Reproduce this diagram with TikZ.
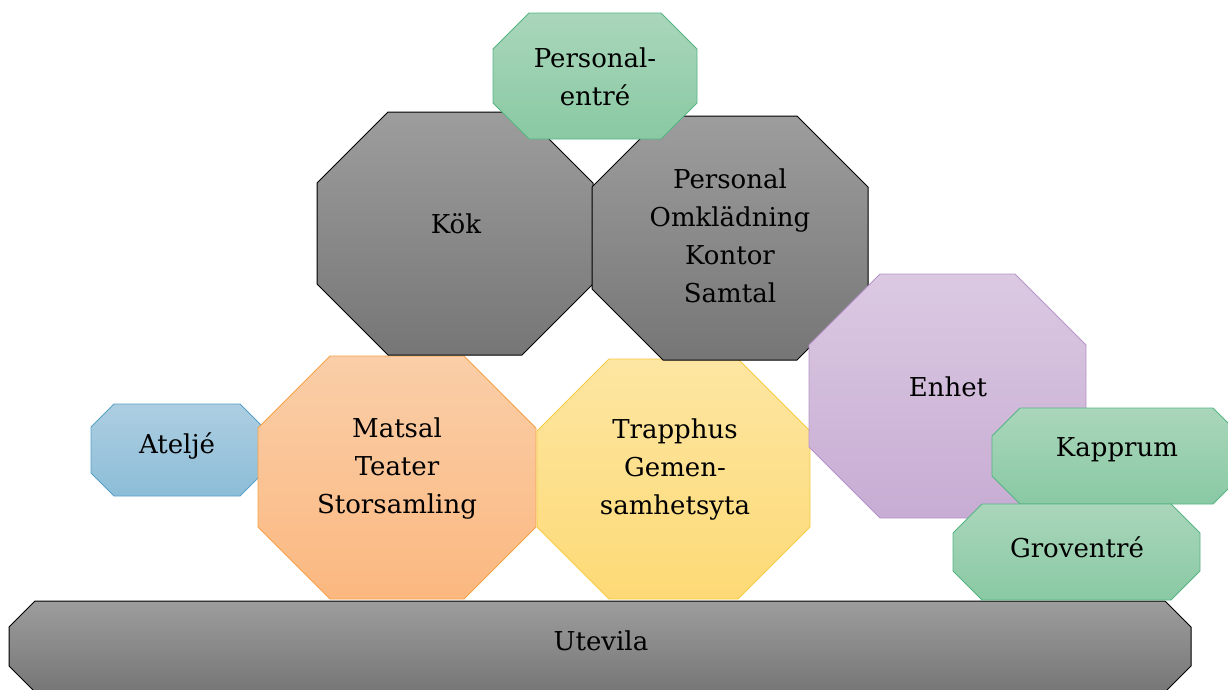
\documentclass[tikz,border=0pt]{standalone}
\usepackage{fontspec}
\setmainfont{DejaVu Serif}
\definecolor{grayT}{RGB}{157,157,157}
\definecolor{grayB}{RGB}{118,118,118}
\definecolor{greenT}{RGB}{170,214,187}
\definecolor{greenB}{RGB}{137,201,163}
\definecolor{greenD}{RGB}{84,180,130}
\definecolor{blueT}{RGB}{173,206,225}
\definecolor{blueB}{RGB}{140,189,216}
\definecolor{blueD}{RGB}{88,160,200}
\definecolor{orangeT}{RGB}{250,206,168}
\definecolor{orangeB}{RGB}{251,184,128}
\definecolor{orangeD}{RGB}{246,162,70}
\definecolor{yellowT}{RGB}{253,230,162}
\definecolor{yellowB}{RGB}{253,218,118}
\definecolor{yellowD}{RGB}{247,202,64}
\definecolor{purpleT}{RGB}{219,201,226}
\definecolor{purpleB}{RGB}{199,172,211}
\definecolor{purpleD}{RGB}{182,148,200}
\newcommand\octo[6]{%
  \path[#1] (#2+#6,#3) -- (#4-#6,#3) -- (#4,#3+#6) -- (#4,#5-#6) -- (#4-#6,#5) -- (#2+#6,#5) -- (#2,#5-#6) -- (#2,#3+#6) -- cycle;}
\tikzset{
  grayoct/.style={top color=grayT, bottom color=grayB, draw=black, line width=1pt},
  greenoct/.style={top color=greenT, bottom color=greenB, draw=greenD, line width=0.9pt},
  blueoct/.style={top color=blueT, bottom color=blueB, draw=blueD, line width=0.9pt},
  orangeoct/.style={top color=orangeT, bottom color=orangeB, draw=orangeD, line width=0.9pt},
  yellowoct/.style={top color=yellowT, bottom color=yellowB, draw=yellowD, line width=0.9pt},
  purpleoct/.style={top color=purpleT, bottom color=purpleB, draw=purpleD, line width=0.9pt},
  lbl/.style={inner sep=0pt, align=center, text=black, font=\fontsize{26}{38}\selectfont}
}
\begin{document}
\begin{tikzpicture}[x=1pt,y=-1pt]
\useasboundingbox (0,0) rectangle (1228,689);
\octo{grayoct}{9}{601}{1191}{692}{26}
\octo{blueoct}{91}{404}{263}{496}{23}
\octo{orangeoct}{258}{356}{536}{599}{72}
\octo{yellowoct}{537}{359}{810}{599}{72}
\octo{grayoct}{317}{112}{593}{355}{71}
\octo{grayoct}{592}{116}{868}{360}{71}
\octo{greenoct}{493}{13}{697}{139}{36}
\octo{purpleoct}{809}{274}{1086}{518}{71}
\octo{greenoct}{992}{408}{1241}{504}{28}
\octo{greenoct}{953}{504}{1200}{600}{29}
\node[lbl] (utevila) at (601,641) {Utevila};
\node[lbl] (atelje) at (177,446) {Ateljé};
\node[lbl] (matsal) at (397,468) {Matsal\\Teater\\Storsamling};
\node[lbl] (trapphus) at (675,469) {Trapphus\\Gemen-\\samhetsyta};
\node[lbl] (kok) at (456,224) {Kök};
\node[lbl] (personal) at (730,236) {Personal\\Omklädning\\Kontor\\Samtal};
\node[lbl] (entre) at (595,77) {Personal-\\entré};
\node[lbl] (enhet) at (948,387) {Enhet};
\node[lbl] (kapprum) at (1117,450) {Kapprum};
\node[lbl] (groventre) at (1077,547) {Groventré};
\end{tikzpicture}
\end{document}
